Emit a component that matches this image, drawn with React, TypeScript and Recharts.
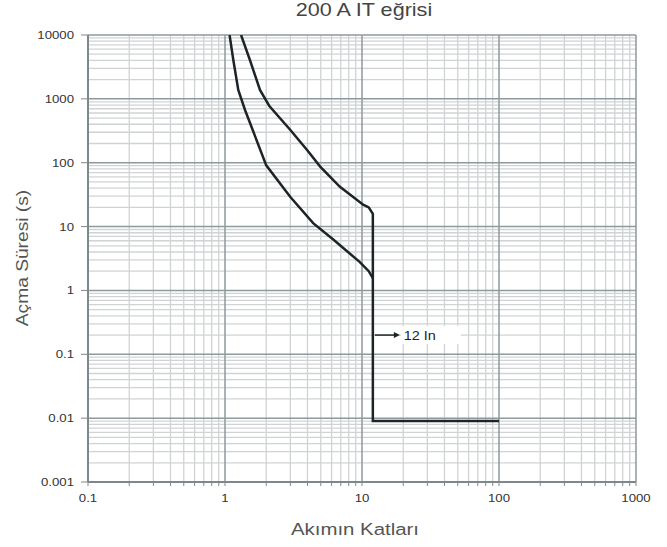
import React from 'react';
import { LineChart, Line, XAxis, YAxis, ReferenceLine, ReferenceDot } from 'recharts';

// trip curve, current multiples (x) vs trip time in seconds (y)
const upperCurrent = [1.31, 1.52, 1.8, 2.1, 3.0, 4.0, 4.95, 6.9, 10.2, 11.2, 12, 12, 100];
const upperTime = [10000, 4060, 1380, 780, 326, 155, 87, 42, 22, 20, 15.8, 0.009, 0.009];

const lowerCurrent = [1.08, 1.15, 1.25, 1.4, 2.0, 3.0, 4.4, 6.2, 9.6, 11.2, 12];
const lowerTime = [10000, 4060, 1380, 670, 91, 29, 11.3, 6.2, 2.8, 2.0, 1.56];

const xMajor = [0.1, 1, 10, 100, 1000];
const yMajor = [0.001, 0.01, 0.1, 1, 10, 100, 1000, 10000];
const minorSteps = [2, 3, 4, 5, 6, 7, 8, 9];

const annotationX = 12;
const annotationY = 0.2;
const annotationText = '12 In';

const upperData = upperCurrent.map((x, i) => ({ x, y: upperTime[i] }));
const lowerData = lowerCurrent.map((x, i) => ({ x, y: lowerTime[i] }));

const minorsOf = (majors: number[]) =>
  majors.slice(0, -1).flatMap((d) => minorSteps.map((m) => m * d));

const xMinor = minorsOf(xMajor);
const yMinor = minorsOf(yMajor);
const xTickValues = [...xMajor, ...xMinor].sort((a, b) => a - b);

const FONT = '"Liberation Sans", Arial, Helvetica, sans-serif';
const SX = 1.2; // reference text is slightly wide
const MINOR = '#d0d3d4';
const MAJOR = '#8f989c';
const AXIS = '#7e878b';
const CURVE = '#1d2427';

function Wide({ x, y, size, anchor, fill, children, rotate }: any) {
  const t = rotate
    ? `translate(${x},${y}) rotate(-90) scale(${SX},1)`
    : `translate(${x},${y}) scale(${SX},1)`;
  return (
    <text transform={t} textAnchor={anchor} fontSize={size} fill={fill} fontFamily={FONT}>
      {children}
    </text>
  );
}

const YTick = ({ x, y, payload }: any) => (
  <Wide x={x} y={y + 4} size={11} anchor="end" fill="#333">
    {String(payload.value)}
  </Wide>
);

const XTick = ({ x, y, payload }: any) =>
  xMajor.includes(payload.value) ? (
    <Wide x={x} y={y + 14} size={11} anchor="middle" fill="#333">
      {String(payload.value)}
    </Wide>
  ) : (
    <g />
  );

const Annotation = ({ cx, cy }: any) => (
  <g>
    <line x1={cx + 2} y1={cy} x2={cx + 22} y2={cy} stroke={CURVE} strokeWidth={1.5} />
    <polygon points={`${cx + 27},${cy} ${cx + 21},${cy - 3} ${cx + 21},${cy + 3}`} fill={CURVE} />
    <rect x={cx + 28} y={cy - 9} width={60} height={18} fill="#fff" />
    <Wide x={cx + 31} y={cy + 4.5} size={12} anchor="start" fill="#222">
      {annotationText}
    </Wide>
  </g>
);

export default function App() {
  return (
    <div style={{ position: 'absolute', left: 0, top: 0, width: 667, height: 547, background: '#fff' }}>
      <LineChart width={667} height={547} margin={{ top: 35, right: 31, left: 0, bottom: 0 }}>
        <XAxis
          dataKey="x"
          type="number"
          scale="log"
          domain={[0.1, 1000]}
          ticks={xTickValues}
          interval={0}
          allowDataOverflow
          height={65}
          tickSize={4}
          tickMargin={2}
          tick={<XTick />}
          axisLine={{ stroke: AXIS, strokeWidth: 2 }}
          tickLine={{ stroke: AXIS }}
        />
        <YAxis
          dataKey="y"
          type="number"
          scale="log"
          domain={[0.001, 10000]}
          ticks={yMajor}
          interval={0}
          allowDataOverflow
          width={88}
          tickSize={7}
          tickMargin={7}
          tick={<YTick />}
          axisLine={{ stroke: AXIS, strokeWidth: 2 }}
          tickLine={{ stroke: AXIS }}
        />
        {xMinor.map((v) => (
          <ReferenceLine key={'xm' + v} x={v} stroke={MINOR} strokeWidth={1.3} />
        ))}
        {yMinor.map((v) => (
          <ReferenceLine key={'ym' + v} y={v} stroke={MINOR} strokeWidth={1.3} />
        ))}
        {xMajor.map((v) => (
          <ReferenceLine key={'xM' + v} x={v} stroke={MAJOR} strokeWidth={1.5} />
        ))}
        {yMajor.map((v) => (
          <ReferenceLine key={'yM' + v} y={v} stroke={MAJOR} strokeWidth={1.5} />
        ))}
        <Line
          data={lowerData}
          dataKey="y"
          type="linear"
          stroke={CURVE}
          strokeWidth={2.5}
          dot={false}
          isAnimationActive={false}
        />
        <Line
          data={upperData}
          dataKey="y"
          type="linear"
          stroke={CURVE}
          strokeWidth={2.5}
          dot={false}
          isAnimationActive={false}
        />
        <ReferenceDot x={annotationX} y={annotationY} r={1} shape={<Annotation />} />
      </LineChart>
      <svg
        width={667}
        height={547}
        style={{ position: 'absolute', left: 0, top: 0, pointerEvents: 'none' }}
      >
        <Wide x={364} y={16} size={18} anchor="middle" fill="#444">
          200 A IT eğrisi
        </Wide>
        <Wide x={355} y={535} size={17} anchor="middle" fill="#555">
          Akımın Katları
        </Wide>
        <Wide x={28} y={258} size={16} anchor="middle" fill="#555" rotate>
          Açma Süresi (s)
        </Wide>
      </svg>
    </div>
  );
}
